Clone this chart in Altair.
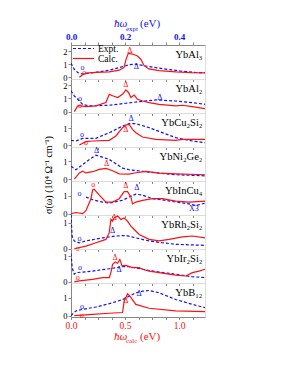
import altair as alt
import pandas as pd

BLUE = "#1010ff"
RED = "#ff1010"
SERIF = "Liberation Serif"

materials = ["YbAl₃", "YbAl₂", "YbCu₂Si₂", "YbNi₂Ge₂", "YbInCu₄", "YbRh₂Si₂", "YbIr₂Si₂", "YbB₁₂"]

# Expt. curves (x in ħω_expt eV), Calc. curves (x in ħω_calc eV), σ in 10^4 Ω^-1 cm^-1
al3_ex = [0.0, 0.012, 0.025, 0.043, 0.068, 0.105, 0.142, 0.178, 0.215, 0.24, 0.265, 0.314, 0.363, 0.412, 0.46, 0.496]
al3_ey = [1.1, 0.62, 0.37, 0.25, 0.32, 0.43, 0.55, 0.75, 0.97, 1.02, 0.92, 0.75, 0.6, 0.47, 0.38, 0.35]
al3_cx = [0.077, 0.108, 0.138, 0.231, 0.354, 0.446, 0.49, 0.51, 0.53, 0.57, 0.615, 0.646, 0.677, 0.72, 0.815, 0.97, 1.12, 1.24]
al3_cy = [0.0, 0.2, 0.33, 0.38, 0.42, 0.55, 0.75, 1.4, 1.85, 1.8, 1.65, 1.4, 0.9, 0.65, 0.52, 0.42, 0.36, 0.35]

al2_ex = [0.0, 0.012, 0.031, 0.043, 0.068, 0.142, 0.203, 0.265, 0.314, 0.388, 0.449, 0.496]
al2_ey = [1.57, 1.19, 0.8, 0.55, 0.43, 0.48, 0.63, 0.78, 0.88, 0.8, 0.68, 0.55]
al2_cx = [0.031, 0.062, 0.092, 0.138, 0.231, 0.323, 0.354, 0.385, 0.431, 0.477, 0.508, 0.532, 0.554, 0.585, 0.615, 0.662, 0.723, 0.815, 0.969, 1.031, 1.123, 1.24]
al2_cy = [0.0, 0.43, 0.43, 0.38, 0.43, 0.68, 1.3, 1.19, 1.06, 1.3, 1.64, 1.44, 1.06, 1.24, 0.93, 0.8, 0.68, 0.55, 0.43, 0.48, 0.38, 0.23]

cu_ex = [0.0, 0.018, 0.043, 0.092, 0.142, 0.191, 0.215, 0.24, 0.289, 0.338, 0.388, 0.449, 0.496]
cu_ey = [0.28, 0.24, 0.4, 0.4, 0.74, 1.14, 1.28, 1.28, 1.04, 0.74, 0.44, 0.24, 0.14]
cu_cx = [0.077, 0.138, 0.2, 0.354, 0.415, 0.477, 0.508, 0.538, 0.569, 0.6, 0.662, 0.785, 0.969, 1.031, 1.24]
cu_cy = [0.0, 0.2, 0.24, 0.28, 0.54, 1.04, 1.2, 1.24, 0.94, 0.74, 0.48, 0.34, 0.28, 0.34, 0.34]

ni_ex = [0.0, 0.018, 0.043, 0.068, 0.092, 0.105, 0.142, 0.191, 0.215, 0.265, 0.326, 0.388, 0.496]
ni_ey = [0.72, 0.53, 0.81, 1.1, 1.34, 1.29, 1.1, 0.62, 0.53, 0.44, 0.34, 0.25, 0.19]
ni_cx = [0.031, 0.077, 0.108, 0.138, 0.2, 0.262, 0.323, 0.385, 0.446, 0.538, 0.6, 0.692, 0.815, 0.969, 1.24]
ni_cy = [0.0, 0.35, 0.45, 0.35, 0.42, 0.55, 0.6, 0.47, 0.3, 0.28, 0.36, 0.44, 0.34, 0.3, 0.25]

in_ex = [0.055, 0.08, 0.117, 0.142, 0.191, 0.215, 0.24, 0.265, 0.302, 0.338, 0.388, 0.437, 0.462, 0.496]
in_ey = [0.94, 0.78, 0.65, 0.59, 0.75, 0.94, 1.1, 1.04, 0.84, 0.78, 0.65, 0.55, 0.45, 0.59]
in_cx = [0.0, 0.046, 0.108, 0.138, 0.185, 0.2, 0.215, 0.262, 0.323, 0.385, 0.446, 0.492, 0.523, 0.554, 0.569, 0.6, 0.662, 0.754, 0.846, 0.969, 1.092, 1.24]
in_cy = [0.0, 0.06, 0.0, 0.16, 0.84, 1.33, 1.37, 1.04, 0.65, 0.65, 0.84, 1.24, 1.24, 0.94, 0.55, 0.65, 0.75, 0.84, 0.84, 0.7, 0.65, 0.7]

rh_ex = [0.0, 0.002, 0.004, 0.012, 0.031, 0.055, 0.117, 0.166, 0.203, 0.24, 0.289, 0.338, 0.388, 0.496]
rh_ey = [1.5, 0.9, 0.49, 0.3, 0.23, 0.3, 0.42, 0.49, 0.51, 0.42, 0.3, 0.23, 0.17, 0.13]
rh_cx = [0.031, 0.138, 0.231, 0.323, 0.354, 0.369, 0.385, 0.4, 0.431, 0.462, 0.492, 0.523, 0.554, 0.585, 0.631, 0.723, 0.815, 0.908, 1.031, 1.123, 1.24]
rh_cy = [0.0, 0.1, 0.23, 0.36, 0.62, 1.13, 1.06, 1.19, 1.26, 1.13, 1.19, 1.06, 0.87, 0.74, 0.55, 0.36, 0.3, 0.36, 0.46, 0.49, 0.42]

ir_ex = [0.0, 0.004, 0.006, 0.012, 0.018, 0.043, 0.08, 0.142, 0.191, 0.215, 0.265, 0.326, 0.388, 0.449, 0.496]
ir_ey = [1.1, 0.6, 0.49, 0.3, 0.36, 0.38, 0.42, 0.51, 0.59, 0.59, 0.49, 0.38, 0.3, 0.2, 0.17]
ir_cx = [0.031, 0.077, 0.2, 0.292, 0.354, 0.369, 0.385, 0.409, 0.431, 0.452, 0.471, 0.508, 0.569, 0.631, 0.662, 0.723, 0.815, 0.969, 1.062, 1.123, 1.185, 1.24]
ir_cy = [0.0, 0.04, 0.1, 0.17, 0.17, 0.36, 0.68, 0.77, 0.72, 0.87, 0.62, 0.64, 0.55, 0.55, 0.49, 0.42, 0.36, 0.26, 0.23, 0.36, 0.42, 0.49]

b12_ex = [0.0, 0.018, 0.043, 0.092, 0.142, 0.191, 0.215, 0.24, 0.265, 0.289, 0.326, 0.388, 0.449, 0.496]
b12_ey = [0.0, 0.26, 0.35, 0.48, 0.67, 0.9, 1.09, 1.28, 1.37, 1.41, 1.28, 0.9, 0.63, 0.44]
b12_cx = [0.031, 0.2, 0.354, 0.477, 0.492, 0.523, 0.545, 0.6, 0.723, 0.969, 1.24]
b12_cy = [0.0, 0.07, 0.13, 0.17, 0.81, 1.22, 1.09, 0.63, 0.41, 0.26, 0.22]

# annotation symbols: (x, y, symbol)
al3_bm = [(0.043, 0.75, "o"), (0.242, 0.82, "Δ")]
al3_rm = [(0.123, 0.33, "o"), (0.545, 2.0, "Δ")]
al2_bm = [(0.033, 0.98, "o"), (0.329, 1.06, "Δ")]
al2_rm = [(0.083, 0.43, "o"), (0.508, 2.0, "Δ")]
cu_bm = [(0.041, 0.6, "o"), (0.222, 1.54, "Δ")]
cu_rm = [(0.138, 0.14, "o"), (0.508, 0.88, "Δ")]
ni_bm = [(0.095, 1.57, "Δ")]
ni_rm = [(0.329, 0.85, "Δ")]
in_bm = [(0.031, 1.1, "o"), (0.244, 1.43, "Δ"), (0.455, 0.25, "X3")]
in_rm = [(0.206, 1.63, "o"), (0.508, 1.57, "Δ")]
rh_bm = [(0.031, 0.38, "o"), (0.154, 0.68, "Δ")]
rh_rm = [(0.062, 0.0, "o"), (0.4, 1.2, "Δ")]
ir_bm = [(0.033, 0.55, "o"), (0.178, 0.46, "Δ")]
ir_rm = [(0.062, 0.17, "o"), (0.409, 0.94, "Δ")]
b12_bm = [(0.041, 0.48, "o"), (0.252, 1.24, "Δ")]
b12_rm = [(0.1, -0.04, "o"), (0.508, 0.81, "Δ")]

y_domains = [[-0.13, 2.5], [-0.1, 2.45], [-0.12, 1.92], [-0.1, 1.8],
             [-0.08, 1.84], [-0.01, 1.3], [-0.04, 1.27], [-0.08, 1.83]]

panels_data = [
    (al3_ex, al3_ey, al3_cx, al3_cy, al3_bm, al3_rm),
    (al2_ex, al2_ey, al2_cx, al2_cy, al2_bm, al2_rm),
    (cu_ex, cu_ey, cu_cx, cu_cy, cu_bm, cu_rm),
    (ni_ex, ni_ey, ni_cx, ni_cy, ni_bm, ni_rm),
    (in_ex, in_ey, in_cx, in_cy, in_bm, in_rm),
    (rh_ex, rh_ey, rh_cx, rh_cy, rh_bm, rh_rm),
    (ir_ex, ir_ey, ir_cx, ir_cy, ir_bm, ir_rm),
    (b12_ex, b12_ey, b12_cx, b12_cy, b12_bm, b12_rm),
]

W, H = 134, 34
XE = alt.Scale(domain=[0, 0.496], nice=False, zero=False)
XC = alt.Scale(domain=[0, 1.24], nice=False, zero=False)
one = pd.DataFrame({"a": [0]})


def panel(i):
    ex, ey, cx, cy, bm, rm = panels_data[i]
    top = i == 0
    bottom = i == len(panels_data) - 1
    ys = alt.Scale(domain=y_domains[i], nice=False, zero=False)
    yvals = [0, 1, 2] if y_domains[i][1] > 2.1 else [0, 1]
    yaxis = alt.Axis(title=None, values=yvals, labelFont=SERIF, labelFontSize=8.5, labelColor="black",
                     tickSize=3, labelPadding=1, grid=False, format="d", labelOverlap=False)

    if top:
        xe_axis = alt.Axis(orient="top", title=None, values=[0.0, 0.05, 0.1, 0.15, 0.2, 0.25, 0.3, 0.35, 0.4, 0.45],
                           labelExpr="indexof([0, 0.2, 0.4], datum.value) >= 0 ? format(datum.value, '.1f') : ''",
                           labelColor=BLUE, labelFont=SERIF, labelFontSize=9, labelFontWeight="bold",
                           tickSize=3, labelOverlap=False, labelFlush=False, grid=False, labelPadding=1)
    else:
        xe_axis = None
    xc_axis = alt.Axis(orient="bottom", title=None,
                       values=[0.0, 0.125, 0.25, 0.375, 0.5, 0.625, 0.75, 0.875, 1.0, 1.125],
                       labels=bottom,
                       labelExpr="indexof([0, 0.5, 1], datum.value) >= 0 ? format(datum.value, '.1f') : ''",
                       labelColor=RED, labelFont=SERIF, labelFontSize=9.5,
                       tickSize=2.5, labelOverlap=False, labelFlush=False, grid=False, labelPadding=1)

    df_e = pd.DataFrame({"x": ex, "y": ey})
    df_c = pd.DataFrame({"x": cx, "y": cy})
    df_bm = pd.DataFrame(bm, columns=["x", "y", "s"])
    df_rm = pd.DataFrame(rm, columns=["x", "y", "s"])

    layers = [
        alt.Chart(df_e).mark_line(color=BLUE, strokeDash=[3, 2], strokeWidth=1.2, clip=True).encode(
            x=alt.X("x:Q", scale=XE, axis=xe_axis),
            y=alt.Y("y:Q", scale=ys, axis=yaxis)),
        alt.Chart(df_c).mark_line(color=RED, strokeWidth=1.2, clip=True).encode(
            x=alt.X("x:Q", scale=XC, axis=xc_axis),
            y=alt.Y("y:Q", scale=ys, axis=yaxis)),
        alt.Chart(df_bm).mark_text(color=BLUE, fontSize=8, font=SERIF, baseline="middle").encode(
            x=alt.X("x:Q", scale=XE, axis=None),
            y=alt.Y("y:Q", scale=ys, axis=yaxis), text="s:N"),
        alt.Chart(df_rm).mark_text(color=RED, fontSize=8, font=SERIF, baseline="middle").encode(
            x=alt.X("x:Q", scale=XC, axis=None),
            y=alt.Y("y:Q", scale=ys, axis=yaxis), text="s:N"),
        alt.Chart(one).mark_text(color="black", fontSize=10.5, font=SERIF, align="right",
                                 baseline="middle").encode(
            x=alt.value(W - 2.5), y=alt.value(10), text=alt.value(materials[i])),
    ]
    if i == 3:
        layers.append(
            alt.Chart(one).mark_text(color="black", fontSize=10, font=SERIF, angle=270,
                                     align="center", baseline="middle").encode(
                x=alt.value(-22), y=alt.value(28), text=alt.value("σ(ω)  (10⁴ Ω⁻¹ cm⁻¹)")))
    if top:
        layers += [
            alt.Chart(one).mark_rule(color=BLUE, strokeDash=[3, 2], strokeWidth=1.2).encode(
                x=alt.value(2), x2=alt.value(23), y=alt.value(3.5)),
            alt.Chart(one).mark_rule(color=RED, strokeWidth=1.2).encode(
                x=alt.value(2), x2=alt.value(23), y=alt.value(13.5)),
            alt.Chart(one).mark_text(fontSize=9.5, font=SERIF, align="left", baseline="middle").encode(
                x=alt.value(27), y=alt.value(3.5), text=alt.value("Expt.")),
            alt.Chart(one).mark_text(fontSize=9.5, font=SERIF, align="left", baseline="middle").encode(
                x=alt.value(27), y=alt.value(14), text=alt.value("Calc.")),
            alt.Chart(one).mark_text(color=BLUE, fontSize=11, font=SERIF, fontStyle="italic",
                                     align="left", baseline="middle").encode(
                x=alt.value(43), y=alt.value(-21), text=alt.value("ħω")),
            alt.Chart(one).mark_text(color=BLUE, fontSize=7, font=SERIF,
                                     align="left", baseline="middle").encode(
                x=alt.value(55), y=alt.value(-16.5), text=alt.value("expt")),
            alt.Chart(one).mark_text(color=BLUE, fontSize=11, font=SERIF,
                                     align="left", baseline="middle").encode(
                x=alt.value(69), y=alt.value(-21), text=alt.value("(eV)")),
        ]
    if bottom:
        layers += [
            alt.Chart(one).mark_text(color=RED, fontSize=11, font=SERIF, fontStyle="italic",
                                     align="left", baseline="middle").encode(
                x=alt.value(43), y=alt.value(54), text=alt.value("ħω")),
            alt.Chart(one).mark_text(color=RED, fontSize=7, font=SERIF,
                                     align="left", baseline="middle").encode(
                x=alt.value(55), y=alt.value(58), text=alt.value("calc")),
            alt.Chart(one).mark_text(color=RED, fontSize=11, font=SERIF,
                                     align="left", baseline="middle").encode(
                x=alt.value(69), y=alt.value(54), text=alt.value("(eV)")),
        ]
    return alt.layer(*layers).resolve_scale(x="independent").properties(width=W, height=H)


chart = alt.vconcat(*[panel(i) for i in range(len(panels_data))], spacing=0, bounds="flush").properties(
    padding={"left": 35, "top": 9, "right": 5, "bottom": 5}
).configure_view(stroke="black", strokeWidth=1).configure_axis(
    domainColor="black", tickColor="black", domainWidth=1, tickWidth=1
).configure(background="white")

chart.save("out.html", embed_options={"renderer": "svg", "actions": False})
